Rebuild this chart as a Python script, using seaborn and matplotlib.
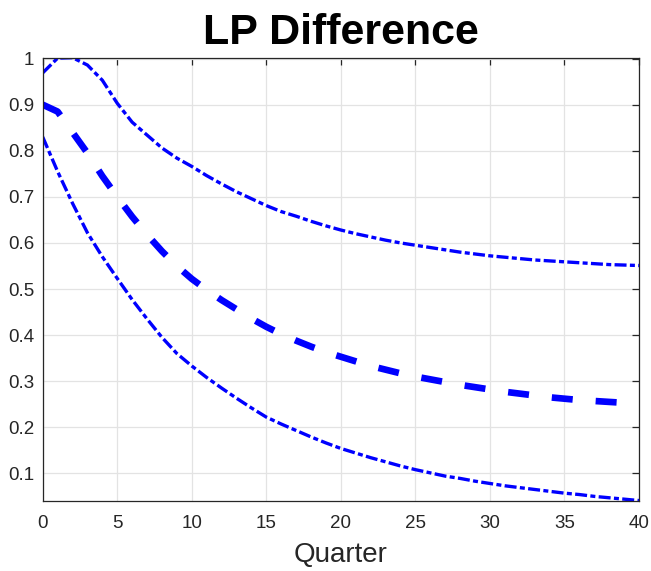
import numpy as np
import pandas as pd
import matplotlib
matplotlib.use("Agg")
import matplotlib.pyplot as plt
import seaborn as sns

quarters = list(range(0, 41))
upper = [0.969, 1.001, 1.002, 0.986, 0.953, 0.903, 0.862, 0.834, 0.806, 0.784,
         0.766, 0.746, 0.728, 0.711, 0.696, 0.681, 0.668, 0.658, 0.647, 0.637,
         0.628, 0.620, 0.613, 0.606, 0.600, 0.595, 0.590, 0.585, 0.580, 0.576,
         0.572, 0.569, 0.566, 0.563, 0.561, 0.559, 0.557, 0.555, 0.553, 0.552,
         0.551]
middle = [0.900, 0.885, 0.840, 0.795, 0.745, 0.700, 0.657, 0.618, 0.582, 0.550,
          0.522, 0.498, 0.476, 0.456, 0.436, 0.418, 0.402, 0.388, 0.375, 0.363,
          0.353, 0.343, 0.333, 0.325, 0.317, 0.310, 0.304, 0.298, 0.292, 0.287,
          0.282, 0.277, 0.273, 0.269, 0.265, 0.262, 0.259, 0.257, 0.255, 0.253,
          0.251]
lower = [0.830, 0.755, 0.686, 0.622, 0.570, 0.523, 0.477, 0.435, 0.395, 0.360,
         0.333, 0.308, 0.285, 0.263, 0.242, 0.222, 0.207, 0.193, 0.179, 0.166,
         0.154, 0.144, 0.134, 0.125, 0.116, 0.108, 0.101, 0.094, 0.089, 0.083,
         0.078, 0.073, 0.069, 0.065, 0.061, 0.057, 0.054, 0.050, 0.047, 0.044,
         0.041]
xticks = [0, 5, 10, 15, 20, 25, 30, 35, 40]
yticks = [0.1, 0.2, 0.3, 0.4, 0.5, 0.6, 0.7, 0.8, 0.9, 1.0]
ytick_labels = ["0.1", "0.2", "0.3", "0.4", "0.5", "0.6", "0.7", "0.8", "0.9", "1"]

sns.set_style("white")
plt.rcParams['font.family'] = ['Liberation Sans', 'DejaVu Sans']

df = pd.DataFrame({"Quarter": quarters, "upper": upper, "middle": middle, "lower": lower})

fig = plt.figure(figsize=(6.51, 5.71), dpi=100)
ax = fig.add_axes([0.0656, 0.1226, 0.9816 - 0.0656, 0.899 - 0.1226])

lw_thin = 2.4
lw_thick = 4.8
dashdot = (0, (3.6, 1.0, 1.5, 1.0))
dashed = (0, (3.15, 3.45))

sns.lineplot(data=df, x="Quarter", y="upper", ax=ax, color=(0, 0, 1),
             linewidth=lw_thin, linestyle=dashdot)
sns.lineplot(data=df, x="Quarter", y="middle", ax=ax, color=(0, 0, 1),
             linewidth=lw_thick, linestyle=dashed)
sns.lineplot(data=df, x="Quarter", y="lower", ax=ax, color=(0, 0, 1),
             linewidth=lw_thin, linestyle=dashdot)

ax.set_xlim(0, 40)
ax.set_ylim(0.040, 1.002)
ax.set_xticks(xticks)
ax.set_xticklabels([str(t) for t in xticks])
ax.set_yticks(yticks)
ax.set_yticklabels(ytick_labels)
ax.grid(True, color="#e3e3e3", linewidth=0.9)
ax.set_axisbelow(True)
for s in ax.spines.values():
    s.set_color("#262626")
    s.set_linewidth(0.9)
    s.set_visible(True)
ax.tick_params(direction="in", top=True, right=True, length=5, width=0.9,
               colors="#262626", labelsize=13.5)
ax.tick_params(axis="x", pad=10)
ax.tick_params(axis="y", pad=6)
ax.set_xlabel("Quarter", fontsize=20, color="#262626", labelpad=7)
ax.set_ylabel("")
ax.set_title("LP Difference", fontsize=31, fontweight="bold", color="black", pad=10)

fig.savefig("out.png", dpi=100)
